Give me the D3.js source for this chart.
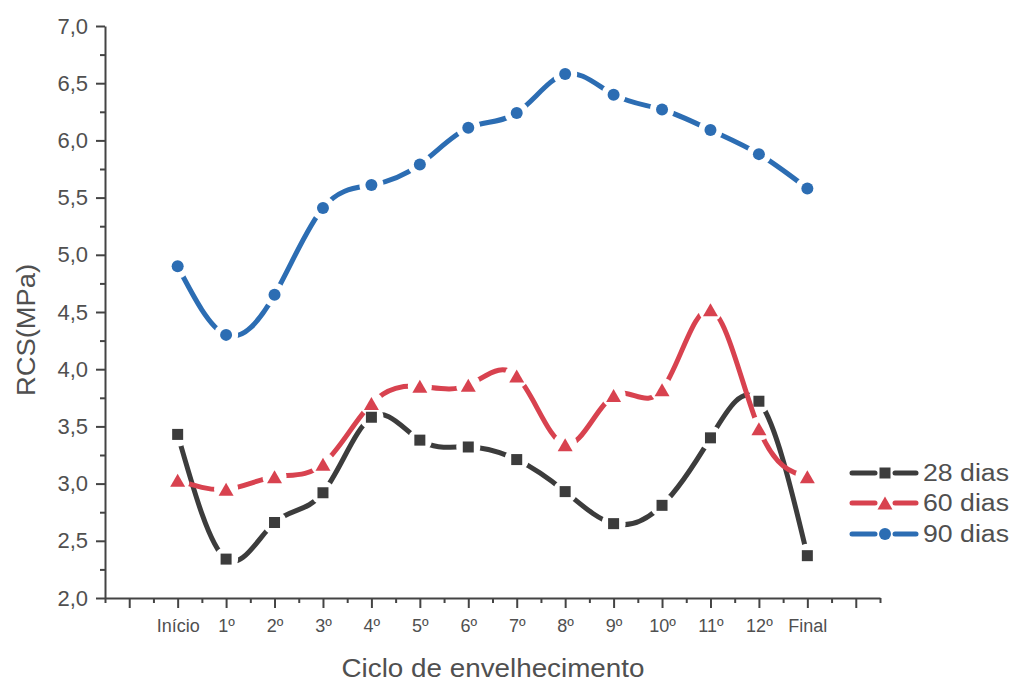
<!DOCTYPE html>
<html>
<head>
<meta charset="utf-8">
<script src="https://cdn.jsdelivr.net/npm/d3@7"></script>
<style>
  html, body { margin: 0; padding: 0; background: #fff; }
  svg { display: block; font-family: "Liberation Sans", Arial, Helvetica, sans-serif; }
</style>
</head>
<body>
<svg id="chart" width="1015" height="683"></svg>
<script>
// Ciclos de envelhecimento (eixo x)
const categories = ["Início", "1º", "2º", "3º", "4º", "5º", "6º", "7º", "8º", "9º", "10º", "11º", "12º", "Final"];

// Resistência à compressão simples (MPa) por idade de cura
const dias28 = [3.43, 2.34, 2.66, 2.92, 3.58, 3.38, 3.32, 3.21, 2.93, 2.65, 2.81, 3.40, 3.72, 2.37];
const dias60 = [3.03, 2.95, 3.06, 3.17, 3.70, 3.85, 3.86, 3.94, 3.34, 3.77, 3.82, 4.52, 3.48, 3.06];
const dias90 = [4.90, 4.30, 4.65, 5.41, 5.61, 5.79, 6.11, 6.24, 6.58, 6.40, 6.27, 6.09, 5.88, 5.58];

const seriesNames = ["28 dias", "60 dias", "90 dias"];
const yTicks = [2.0, 2.5, 3.0, 3.5, 4.0, 4.5, 5.0, 5.5, 6.0, 6.5, 7.0];

const svg = d3.select("#chart");
const textColor = "#505050";
const axisColor = "#444";

const x = d3.scaleLinear().domain([-1.5, 14.5]).range([105, 880]);
const y = d3.scaleLinear().domain([2, 7]).range([598, 26]);

const series = [
  { name: seriesNames[0], values: dias28, color: "#3c3c3c", shape: "square" },
  { name: seriesNames[1], values: dias60, color: "#d8424f", shape: "triangle" },
  { name: seriesNames[2], values: dias90, color: "#2c6db3", shape: "circle" }
];

// ---- Eixos ----
const fmt = d => d.toFixed(1).replace(".", ",");

// minor ticks on y
svg.append("g")
  .attr("transform", "translate(105,0)")
  .call(d3.axisLeft(y).tickValues(d3.range(2.25, 7, 0.5)).tickSize(5).tickFormat("").tickSizeOuter(0))
  .call(g => g.select(".domain").remove())
  .call(g => g.selectAll("line").attr("stroke", axisColor).attr("stroke-width", 2));

const yAxis = svg.append("g")
  .attr("transform", "translate(105,0)")
  .call(d3.axisLeft(y).tickValues(yTicks).tickSize(9).tickPadding(8).tickFormat(fmt).tickSizeOuter(0));
yAxis.select(".domain").attr("stroke", axisColor).attr("stroke-width", 2);
yAxis.selectAll("line").attr("stroke", axisColor).attr("stroke-width", 2);
yAxis.selectAll("text").attr("fill", textColor).style("font-size", "22px");

// minor ticks on x
svg.append("g")
  .attr("transform", "translate(0,598)")
  .call(d3.axisBottom(x).tickValues(d3.range(-1.5, 15, 1)).tickSize(5).tickFormat("").tickSizeOuter(0))
  .call(g => g.select(".domain").remove())
  .call(g => g.selectAll("line").attr("stroke", axisColor).attr("stroke-width", 2));

const xAxis = svg.append("g")
  .attr("transform", "translate(0,598)")
  .call(d3.axisBottom(x).tickValues(d3.range(-1, 15, 1)).tickSize(10).tickPadding(11)
    .tickFormat(i => (i >= 0 && i < categories.length) ? categories[i] : "").tickSizeOuter(0));
xAxis.select(".domain").attr("stroke", axisColor).attr("stroke-width", 2);
xAxis.selectAll("line").attr("stroke", axisColor).attr("stroke-width", 2);
xAxis.selectAll("text").attr("fill", textColor).style("font-size", "18px");

// títulos dos eixos
svg.append("text")
  .attr("x", 493).attr("y", 677)
  .attr("text-anchor", "middle")
  .attr("fill", textColor)
  .attr("textLength", 303).attr("lengthAdjust", "spacingAndGlyphs")
  .style("font-size", "25px")
  .text("Ciclo de envelhecimento");

svg.append("text")
  .attr("transform", "translate(35,330) rotate(-90)")
  .attr("text-anchor", "middle")
  .attr("fill", textColor)
  .attr("textLength", 132).attr("lengthAdjust", "spacingAndGlyphs")
  .style("font-size", "25px")
  .text("RCS(MPa)");

// ---- Símbolos ----
function drawSymbol(g, shape, cx, cy, color) {
  if (shape === "square") {
    g.append("rect").attr("x", cx - 5.5).attr("y", cy - 5.5).attr("width", 11).attr("height", 11).attr("fill", color);
  } else if (shape === "triangle") {
    const w = 15, h = 13;
    g.append("path")
      .attr("d", `M${cx},${cy - h / 2}L${cx + w / 2},${cy + h / 2}L${cx - w / 2},${cy + h / 2}Z`)
      .attr("fill", color);
  } else {
    g.append("circle").attr("cx", cx).attr("cy", cy).attr("r", 6).attr("fill", color);
  }
}

// ---- Séries ----
const defs = svg.append("defs");
const line = d3.line().x((d, i) => x(i)).y(d => y(d)).curve(d3.curveNatural);

series.forEach((s, k) => {
  const maskId = "gap" + k;
  const mask = defs.append("mask").attr("id", maskId).attr("maskUnits", "userSpaceOnUse")
    .attr("x", 0).attr("y", 0).attr("width", 1015).attr("height", 683);
  mask.append("rect").attr("width", 1015).attr("height", 683).attr("fill", "#fff");
  s.values.forEach((v, i) => {
    mask.append("circle").attr("cx", x(i)).attr("cy", y(v)).attr("r", 12).attr("fill", "#000");
  });

  const g = svg.append("g");
  g.append("path")
    .attr("d", line(s.values))
    .attr("fill", "none")
    .attr("stroke", s.color)
    .attr("stroke-width", 5)
    .attr("stroke-linecap", "round")
    .attr("mask", `url(#${maskId})`);
  s.values.forEach((v, i) => drawSymbol(g, s.shape, x(i), y(v), s.color));
});

// ---- Legenda ----
const legendY = [473, 503, 534];
series.forEach((s, k) => {
  const g = svg.append("g");
  const ly = legendY[k];
  g.append("line").attr("x1", 852).attr("x2", 875).attr("y1", ly).attr("y2", ly)
    .attr("stroke", s.color).attr("stroke-width", 5).attr("stroke-linecap", "round");
  g.append("line").attr("x1", 895).attr("x2", 916).attr("y1", ly).attr("y2", ly)
    .attr("stroke", s.color).attr("stroke-width", 5).attr("stroke-linecap", "round");
  drawSymbol(g, s.shape, 885, ly, s.color);
  g.append("text")
    .attr("x", 923).attr("y", ly).attr("dy", "0.36em")
    .attr("fill", textColor)
    .attr("textLength", 86).attr("lengthAdjust", "spacingAndGlyphs")
    .style("font-size", "23px")
    .text(s.name);
});
</script>
</body>
</html>
